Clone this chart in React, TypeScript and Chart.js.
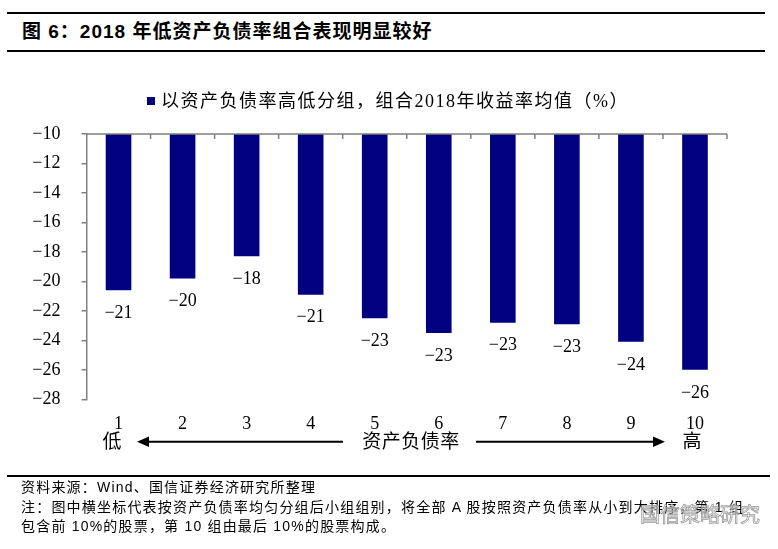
import React, { useEffect, useRef } from 'react';
import { Chart, registerables } from 'chart.js';

Chart.register(...registerables);

const groups = ['1', '2', '3', '4', '5', '6', '7', '8', '9', '10'];
const returns = [-20.6, -19.8, -18.3, -20.9, -22.5, -23.5, -22.8, -22.9, -24.1, -26.0];
const valueLabels = ['-21', '-20', '-18', '-21', '-23', '-23', '-23', '-23', '-24', '-26'];
const yMin = -28;
const yMax = -10;
const yStep = 2;

const seriesName = '以资产负债率高低分组，组合2018年收益率均值（%）';
const titleText = '图 6：2018 年低资产负债率组合表现明显较好';
const sourceText = '资料来源：Wind、国信证券经济研究所整理';
const noteLine1 = '注：图中横坐标代表按资产负债率均匀分组后小组组别，将全部 A 股按照资产负债率从小到大排序，第 1 组';
const noteLine2 = '包含前 10%的股票，第 10 组由最后 10%的股票构成。';
const axisLow = '低';
const axisMid = '资产负债率';
const axisHigh = '高';
const watermark = '国信策略研究';

const NAVY = '#000080';
const GRAY = '#808080';
const SERIF = '"Liberation Serif", "Times New Roman", "Noto Sans CJK SC", serif';
const SANS = '"Liberation Sans", Arial, "Noto Sans CJK SC", sans-serif';

const minus = (s: string) => s.replace(/-/g, '\u2212');

const topAxisPlugin = {
  id: 'topAxis',
  afterDatasetsDraw(chart: any) {
    const { ctx, chartArea } = chart;
    const xs = chart.scales.x;
    ctx.save();
    ctx.strokeStyle = GRAY;
    ctx.lineWidth = 1.5;
    ctx.beginPath();
    ctx.moveTo(chartArea.left, chartArea.top);
    ctx.lineTo(chartArea.right, chartArea.top);
    for (let i = 1; i <= groups.length; i++) {
      const x = xs.getPixelForValue(i - 0.5);
      ctx.moveTo(x, chartArea.top);
      ctx.lineTo(x, chartArea.top + 5);
    }
    ctx.stroke();
    const meta = chart.getDatasetMeta(0);
    ctx.fillStyle = '#000';
    ctx.font = `18px ${SERIF}`;
    ctx.textAlign = 'center';
    ctx.textBaseline = 'middle';
    meta.data.forEach((bar: any, i: number) => {
      ctx.fillText(minus(valueLabels[i]), bar.x, bar.y + 23);
    });
    ctx.restore();
  },
};

export default function App() {
  const ref = useRef<HTMLCanvasElement>(null);

  useEffect(() => {
    document.body.style.margin = '0';
    const canvas = ref.current!;
    const chart = new Chart(canvas, {
      type: 'bar',
      data: {
        labels: groups,
        datasets: [
          {
            label: seriesName,
            data: returns,
            backgroundColor: NAVY,
            borderWidth: 0,
            categoryPercentage: 1,
            barPercentage: 0.4,
          },
        ],
      },
      options: {
        animation: false,
        responsive: false,
        devicePixelRatio: 1,
        layout: { padding: { left: 0, right: 51, top: 134, bottom: 109.7 } },
        plugins: {
          legend: { display: false },
          tooltip: { enabled: false },
        },
        scales: {
          x: {
            position: 'bottom',
            grid: { display: false },
            border: { display: false },
            ticks: {
              color: '#000',
              font: { family: SERIF, size: 18 },
              padding: 6,
              maxRotation: 0,
            },
            afterFit: (s: any) => {
              s.height = 40;
            },
          },
          y: {
            min: yMin,
            max: yMax,
            grid: {
              drawOnChartArea: false,
              drawTicks: true,
              tickLength: 5,
              color: GRAY,
              lineWidth: 1.5,
            },
            border: { display: true, color: GRAY, width: 1.5 },
            ticks: {
              stepSize: yStep,
              color: '#000',
              font: { family: SERIF, size: 18 },
              padding: 21,
              callback: (v: any) => minus(String(v)),
            },
            afterFit: (s: any) => {
              s.width = 86.5;
            },
          },
        },
      },
      plugins: [topAxisPlugin],
    });
    return () => chart.destroy();
  }, []);

  const abs = (style: React.CSSProperties): React.CSSProperties => ({
    position: 'absolute',
    whiteSpace: 'nowrap',
    ...style,
  });

  return (
    <div style={{ position: 'relative', width: 778, height: 549, background: '#fff', overflow: 'hidden' }}>
      <div style={abs({ left: 7, top: 11.5, width: 758, height: 2, background: '#000' })} />
      <div
        style={abs({
          left: 22,
          top: 20,
          fontFamily: SANS,
          fontWeight: 'bold',
          fontSize: 19,
          lineHeight: '24px',
          letterSpacing: 1,
          color: '#000',
        })}
      >
        {titleText}
      </div>
      <div style={abs({ left: 7, top: 50, width: 758, height: 2, background: '#000' })} />

      <canvas ref={ref} width={778} height={549} style={abs({ left: 0, top: 0, width: 778, height: 549 })} />

      <div style={abs({ left: 147, top: 97, width: 8, height: 8, background: NAVY })} />
      <div
        style={abs({
          left: 161,
          top: 90,
          fontFamily: SERIF,
          fontSize: 18,
          lineHeight: '22px',
          letterSpacing: 1.5,
          color: '#000',
        })}
      >
        {seriesName}
      </div>

      <div style={abs({ left: 102, top: 430, width: 20, textAlign: 'center', fontFamily: SERIF, fontSize: 19, lineHeight: '24px' })}>
        {axisLow}
      </div>
      <div style={abs({ left: 361, top: 430, width: 100, textAlign: 'center', fontFamily: SERIF, fontSize: 19, lineHeight: '24px', letterSpacing: 0.5 })}>
        {axisMid}
      </div>
      <div style={abs({ left: 682, top: 430, width: 20, textAlign: 'center', fontFamily: SERIF, fontSize: 19, lineHeight: '24px' })}>
        {axisHigh}
      </div>
      <svg width={778} height={549} style={abs({ left: 0, top: 0, pointerEvents: 'none' })}>
        <line x1={343} y1={441.7} x2={146} y2={441.7} stroke="#000" strokeWidth={2} />
        <polygon points="137,441.7 149,436.5 149,446.9" fill="#000" />
        <line x1={476} y1={441.7} x2={656} y2={441.7} stroke="#000" strokeWidth={2} />
        <polygon points="665,441.7 653,436.5 653,446.9" fill="#000" />
      </svg>

      <div style={abs({ left: 7, top: 475, width: 763, height: 2, background: '#000' })} />
      <div style={abs({ left: 21, top: 478, fontFamily: SANS, fontSize: 14, lineHeight: '19.5px', letterSpacing: 1.2, color: '#000' })}>
        <div>{sourceText}</div>
        <div>{noteLine1}</div>
        <div>{noteLine2}</div>
      </div>
      <div
        style={abs({
          left: 640,
          top: 502,
          fontFamily: '"Noto Sans CJK SC", sans-serif',
          fontSize: 20,
          lineHeight: '24px',
          color: 'rgba(255,255,255,0.6)',
          WebkitTextStroke: '0.8px #9a9a9a',
        })}
      >
        {watermark}
      </div>
    </div>
  );
}
